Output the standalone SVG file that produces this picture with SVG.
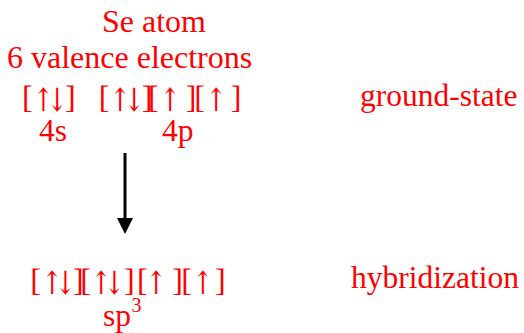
<svg xmlns="http://www.w3.org/2000/svg" width="524" height="333" viewBox="0 0 524 333">
<style>
text{font-family:"Liberation Serif","Times New Roman",serif;font-size:31.5px;fill:#ff0000}
.t{font-size:32px}
.orb{text-anchor:middle;font-size:32px}
.a{text-anchor:middle;font-family:"DejaVu Serif",serif;font-size:32px}
.sup{font-size:20px}
</style>
<defs>
<marker id="ah" markerUnits="userSpaceOnUse" markerWidth="16" markerHeight="17" refX="0" refY="8" orient="auto" viewBox="0 0 16 17">
<path d="M0,0 L16,8 L0,16 Z" fill="#000"/>
</marker>
</defs>
<rect width="524" height="333" fill="#fff"/>
<g id="title">
<text class="t" x="102" y="32">Se atom</text>
<text class="t" x="7" y="68">6 valence electrons</text>
</g>
<g id="ground-state">
<text class="orb" y="107.5"><tspan x="27.3">[</tspan><tspan x="70.3">]</tspan><tspan x="104">[</tspan><tspan x="147">]</tspan><tspan x="153.3">[</tspan><tspan x="191">]</tspan><tspan x="199.7">[</tspan><tspan x="236">]</tspan></text>
<text class="a" transform="translate(43.5 110.5) scale(0.78 1)">↑</text>
<text class="a" transform="translate(57.3 110.5) scale(0.78 1)">↓</text>
<text class="a" transform="translate(120.3 110.5) scale(0.78 1)">↑</text>
<text class="a" transform="translate(134.2 110.5) scale(0.78 1)">↓</text>
<text class="a" transform="translate(170.3 110.5) scale(0.78 1)">↑</text>
<text class="a" transform="translate(216.3 110.5) scale(0.78 1)">↑</text>
<text x="39" y="141">4s</text>
<text x="162" y="141">4p</text>
<text x="360" y="106">ground-state</text>
</g>
<g id="connectors">
<line x1="125" y1="153" x2="125" y2="218" stroke="#000" stroke-width="3" marker-end="url(#ah)"/>
</g>
<g id="hybridization">
<text class="orb" y="290.5"><tspan x="35.7">[</tspan><tspan x="78.3">]</tspan><tspan x="85.7">[</tspan><tspan x="129.4">]</tspan><tspan x="142.3">[</tspan><tspan x="177.7">]</tspan><tspan x="186.7">[</tspan><tspan x="220.3">]</tspan></text>
<text class="a" transform="translate(52.2 294) scale(0.78 1)">↑</text>
<text class="a" transform="translate(65.5 294) scale(0.78 1)">↓</text>
<text class="a" transform="translate(101.2 294) scale(0.78 1)">↑</text>
<text class="a" transform="translate(114.5 294) scale(0.78 1)">↓</text>
<text class="a" transform="translate(156.3 294) scale(0.78 1)">↑</text>
<text class="a" transform="translate(203 294) scale(0.78 1)">↑</text>
<text x="103" y="326">sp</text>
<text class="sup" x="131.5" y="312">3</text>
<text x="351" y="288">hybridization</text>
</g>
</svg>
